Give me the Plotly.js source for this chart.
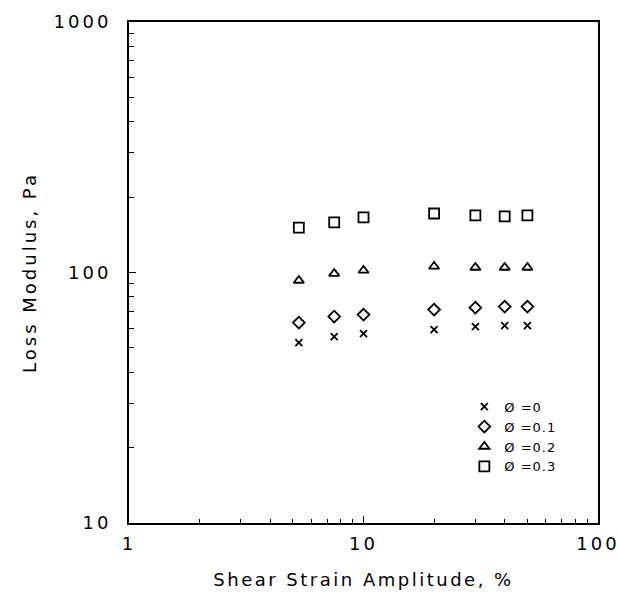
<!DOCTYPE html>
<html>
<head>
<meta charset="utf-8">
<script src="https://cdn.plot.ly/plotly-3.0.1.min.js"></script>
<style>
html,body{margin:0;padding:0;background:#fff;}
#chart{width:619px;height:605px;}
#chart .xtitle {letter-spacing: 2.5px;}
#chart .ytitle {letter-spacing: 3px;}
#chart .xtick text, #chart .ytick text {letter-spacing: 3px;}
#chart .legendtext {letter-spacing: 1px;}
</style>
</head>
<body>
<div id="chart"></div>
<script>
// Shear strain amplitude (%)
const strain = [5.3, 7.5, 10, 20, 30, 40, 50];
// Loss modulus (Pa) for each volume fraction
const phi0   = [52.5, 55.5, 57, 59.2, 60.8, 61.4, 61.4];
const phi01  = [63.1, 66.7, 67.9, 71.1, 72.4, 73.1, 73.1];
const phi02  = [92.9, 99, 101.9, 105.7, 104.7, 104.7, 104.7];
const phi03  = [151, 158.5, 166, 172, 169, 167.5, 169];
const seriesNames = ["Ø =0", "Ø =0.1", "Ø =0.2", "Ø =0.3"];
const xTickVals = [1, 10, 100];
const xTickText = ["1", "10", "100"];
const yTickVals = [10, 100, 1000];
const yTickText = ["10", "100", "1000"];
const xMinor = [2,3,4,5,6,7,8,9,20,30,40,50,60,70,80,90];
const yMinor = [20,30,40,50,60,70,80,90,200,300,400,500,600,700,800,900];

const fontFam = "DejaVu Sans, sans-serif";
const symbols = ["x-thin-open", "diamond-open", "triangle-up-open", "square-open"];
const sizes = [7, 9, 9, 10];
const ys = [phi0, phi01, phi02, phi03];

const traces = ys.map((y, i) => ({
  x: strain, y: y, type: "scatter", mode: "markers", name: seriesNames[i],
  marker: {symbol: symbols[i], size: sizes[i], color: "#000", line: {color: "#000", width: 1.8}}
}));

const layout = {
  width: 619, height: 605,
  margin: {l: 129, r: 21, t: 22, b: 82},
  paper_bgcolor: "#fff", plot_bgcolor: "#fff",
  font: {family: fontFam, color: "#000", size: 16},
  showlegend: true,
  legend: {x: 0.715, y: 0.262, xanchor: "left", yanchor: "top", traceorder: "normal",
           font: {family: fontFam, size: 13, color: "#000"}, itemwidth: 30,
           bgcolor: "rgba(0,0,0,0)", tracegroupgap: 0},
  xaxis: {
    type: "log", range: [0, 2], tickmode: "array", tickvals: xTickVals, ticktext: xTickText,
    ticks: "inside", ticklen: 7, tickwidth: 1.5, tickcolor: "#000",
    showline: true, linecolor: "#000", linewidth: 2, mirror: true,
    showgrid: false, zeroline: false,
    tickfont: {family: fontFam, size: 18}, ticklabelstandoff: 3,
    minor: {tickmode: "array", tickvals: xMinor, ticks: "inside", ticklen: 4, tickwidth: 1, tickcolor: "#000", showgrid: false},
    title: {text: "Shear Strain Amplitude, %", font: {family: fontFam, size: 18}, standoff: 21}
  },
  yaxis: {
    type: "log", range: [1, 3], tickmode: "array", tickvals: yTickVals, ticktext: yTickText,
    ticks: "inside", ticklen: 7, tickwidth: 1.5, tickcolor: "#000",
    showline: true, linecolor: "#000", linewidth: 2, mirror: true,
    showgrid: false, zeroline: false,
    tickfont: {family: fontFam, size: 18}, ticklabelstandoff: 12,
    minor: {tickmode: "array", tickvals: yMinor, ticks: "inside", ticklen: 5, tickwidth: 1, tickcolor: "#000", showgrid: false},
    title: {text: "Loss Modulus, Pa", font: {family: fontFam, size: 18}, standoff: 24}
  }
};

Plotly.newPlot("chart", traces, layout, {displayModeBar: false, staticPlot: true});
</script>
</body>
</html>
